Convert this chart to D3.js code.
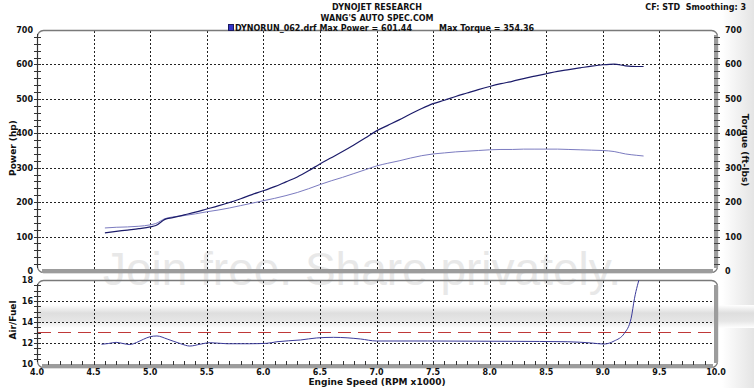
<!DOCTYPE html>
<html><head><meta charset="utf-8">
<script src="https://cdn.jsdelivr.net/npm/d3@7"></script>
<style>
html,body{margin:0;padding:0;background:#fff;}
svg{display:block;}
text{font-family:"DejaVu Sans",Verdana,sans-serif;font-weight:bold;fill:#111;}
</style></head>
<body>
<svg id="c" width="754" height="388"></svg>
<script>
// ---- data ----
const rpm    = [4.6,4.7,4.8,4.9,5.0,5.05,5.13,5.2,5.3,5.4,5.5,5.6,5.7,5.8,5.9,6.0,6.1,6.2,6.3,6.4,6.5,6.6,6.7,6.8,6.9,7.0,7.1,7.2,7.3,7.4,7.5,7.6,7.7,7.8,7.9,8.0,8.1,8.2,8.3,8.4,8.5,8.6,8.7,8.8,8.9,9.0,9.1,9.2,9.3,9.36];
const power  = [111,115,119,123,128,132,150,155,163,171,180,189,199,210,222,233,245,259,273,291,311,329,347,366,386,407,423,439,456,472,486,496,507,517,527,536,544,551,559,566,573,580,585,590,595,599,601,596,594,594];
const torque = [125,127,128,130,134,138,152,157,161,166,172,177,183,190,197,204,211,219,228,239,251,262,272,283,294,305,313,320,328,335,340,343,346,348,350,352,353,353,354,354,354,354,353,352,351,350,347,340,336,334];
const afrRpm = [4.57,4.63,4.70,4.76,4.82,4.88,4.94,5.0,5.06,5.15,5.27,5.35,5.44,5.53,5.68,5.88,6.03,6.12,6.33,6.47,6.62,6.86,7.0,7.45,8.19,8.69,8.9,9.01,9.1,9.19,9.25,9.28,9.33];
const afr    = [11.88,11.95,12.06,11.95,11.85,12.05,12.35,12.6,12.67,12.38,11.93,11.71,11.88,12.03,11.93,11.93,11.97,12.12,12.29,12.48,12.54,12.38,12.19,12.19,12.16,12.12,12.0,11.9,12.19,12.92,14.35,16.26,18.4];
const afrTarget = 13;
const xTicks = [4.0,4.5,5.0,5.5,6.0,6.5,7.0,7.5,8.0,8.5,9.0,9.5,10.0];
const pTicks = [0,100,200,300,400,500,600,700];
const aTicks = [10,12,14,16,18];
const titleLines = ["DYNOJET RESEARCH","WANG'S AUTO SPEC.COM"];
const legendPower = "DYNORUN_062.drf Max Power = 601.44";
const legendTorque = "Max Torque = 354.36";

// ---- scales ----
const x  = d3.scaleLinear().domain([4,10]).range([37,716]);
const yP = d3.scaleLinear().domain([0,700]).range([271,30]);
const yA = d3.scaleLinear().domain([10,18]).range([364,280]);

const svg = d3.select("#c");

// background gradients
const defs = svg.append("defs");
const g1 = defs.append("linearGradient").attr("id","rg").attr("x1",0).attr("x2",1).attr("y1",0).attr("y2",0);
g1.append("stop").attr("offset",0).attr("stop-color","#fff");
g1.append("stop").attr("offset",1).attr("stop-color","#e4e4e4");
svg.append("rect").attr("x",722).attr("y",0).attr("width",32).attr("height",388).attr("fill","url(#rg)");
const g2 = defs.append("linearGradient").attr("id","bg").attr("x1",0).attr("x2",0).attr("y1",0).attr("y2",1);
g2.append("stop").attr("offset",0).attr("stop-color","#fff");
g2.append("stop").attr("offset",0.35).attr("stop-color","#dedede");
g2.append("stop").attr("offset",0.7).attr("stop-color","#e6e6e6");
g2.append("stop").attr("offset",1).attr("stop-color","#fff");
svg.append("rect").attr("x",38).attr("y",305).attr("width",716).attr("height",23).attr("fill","url(#bg)");

// watermark
svg.append("text").attr("x",362).attr("y",285).attr("text-anchor","middle")
  .style("font-family","'Liberation Sans',Arial,sans-serif").style("font-weight","normal")
  .style("font-size","46px").style("fill","#e8e8e8").text("Join free. Share privately.");

// ---- grids ----
const gridV = xTicks.filter(v=>v>4 && v<10);
function grid(yScale, hVals, y0, y1){
  svg.append("g").selectAll("line").data(gridV).join("line")
    .attr("x1",d=>Math.round(x(d))+0.5).attr("x2",d=>Math.round(x(d))+0.5)
    .attr("y1",y0).attr("y2",y1)
    .attr("stroke","#222").attr("stroke-width",1).attr("stroke-dasharray","2,2");
  svg.append("g").selectAll("line").data(hVals).join("line")
    .attr("x1",38).attr("x2",716)
    .attr("y1",d=>Math.round(yScale(d))+0.5).attr("y2",d=>Math.round(yScale(d))+0.5)
    .attr("stroke","#222").attr("stroke-width",1).attr("stroke-dasharray","2,2");
}
grid(yP, pTicks.filter(v=>v>0&&v<700), 31, 270);
grid(yA, aTicks.filter(v=>v>10&&v<18), 281, 363);

// ---- frames ----
function frame(yTop, yBot){
  svg.append("rect").attr("x",37.5).attr("y",yTop+0.5).attr("width",680).attr("height",yBot-yTop)
    .attr("rx",6).attr("fill","none").attr("stroke","#7a7a7a").attr("stroke-width",1.3);
  svg.append("line").attr("x1",42).attr("x2",713).attr("y1",yBot-1).attr("y2",yBot-1)
    .attr("stroke","#9c9c9c").attr("stroke-width",4);
  svg.append("line").attr("x1",716).attr("x2",716).attr("y1",yTop+5).attr("y2",yBot-4)
    .attr("stroke","#9c9c9c").attr("stroke-width",4);
}
frame(30, 272);
frame(280, 367);

// left axis lines
svg.append("line").attr("x1",37.5).attr("x2",37.5).attr("y1",34).attr("y2",268).attr("stroke","#333");
svg.append("line").attr("x1",37.5).attr("x2",37.5).attr("y1",284).attr("y2",362).attr("stroke","#333");

// minor ticks
svg.append("g").selectAll("line").data(d3.range(20,700,20)).join("line")
  .attr("x1",34).attr("x2",41).attr("y1",d=>Math.round(yP(d))+0.5).attr("y2",d=>Math.round(yP(d))+0.5)
  .attr("stroke","#333");
svg.append("g").selectAll("line").data(d3.range(20,700,20)).join("line")
  .attr("x1",714).attr("x2",720).attr("y1",d=>Math.round(yP(d))+0.5).attr("y2",d=>Math.round(yP(d))+0.5)
  .attr("stroke","#444");
svg.append("g").selectAll("line").data(d3.range(10.5,18,0.5)).join("line")
  .attr("x1",34).attr("x2",41).attr("y1",d=>Math.round(yA(d))+0.5).attr("y2",d=>Math.round(yA(d))+0.5)
  .attr("stroke","#333");
svg.append("g").selectAll("line").data(d3.range(41,100,1).map(v=>v/10)).join("line")
  .attr("x1",d=>Math.round(x(d))+0.5).attr("x2",d=>Math.round(x(d))+0.5).attr("y1",361).attr("y2",365)
  .attr("stroke","#333");

// ---- tick labels ----
const fs = "8px";
svg.append("g").selectAll("text").data(pTicks).join("text")
  .attr("x",33).attr("y",d=>yP(d)+3).attr("text-anchor","end").style("font-size",fs).text(d=>d);
svg.append("g").selectAll("text").data(pTicks).join("text")
  .attr("x",725).attr("y",d=>yP(d)+3).attr("text-anchor","start").style("font-size",fs).text(d=>d);
svg.append("g").selectAll("text").data(aTicks).join("text")
  .attr("x",33).attr("y",d=>yA(d)+3).attr("text-anchor","end").style("font-size",fs).text(d=>d);
svg.append("g").selectAll("text").data(xTicks).join("text")
  .attr("x",d=>x(d)).attr("y",375).attr("text-anchor","middle").style("font-size",fs).text(d=>d.toFixed(1));

// ---- axis titles ----
svg.append("text").attr("transform","translate(16,148) rotate(-90)").attr("text-anchor","middle")
  .style("font-size","9px").text("Power (hp)");
svg.append("text").attr("transform","translate(742,150) rotate(90)").attr("text-anchor","middle")
  .style("font-size","9px").text("Torque (ft-lbs)");
svg.append("text").attr("transform","translate(16,320) rotate(-90)").attr("text-anchor","middle")
  .style("font-size","9px").text("Air/Fuel");
svg.append("text").attr("x",377).attr("y",385).attr("text-anchor","middle")
  .style("font-size","9px").text("Engine Speed (RPM x1000)");

// ---- titles ----
svg.append("g").selectAll("text").data(titleLines).join("text")
  .attr("x",377).attr("y",(d,i)=>10+i*11).attr("text-anchor","middle").style("font-size",fs).text(d=>d);
svg.append("text").attr("x",746).attr("y",10).attr("text-anchor","end").style("font-size",fs)
  .attr("xml:space","preserve").text("CF: STD  Smoothing: 3");

// ---- series ----
const lineP = d3.line().x((d,i)=>x(rpm[i])).y(d=>yP(d)).curve(d3.curveMonotoneX);
svg.append("path").attr("d",lineP(torque)).attr("fill","none").attr("stroke","#7b7bc0").attr("stroke-width",1);
svg.append("path").attr("d",lineP(power)).attr("fill","none").attr("stroke","#1c1c6a").attr("stroke-width",1.2);

// AFR
defs.append("clipPath").attr("id","ac").append("rect").attr("x",37).attr("y",280).attr("width",680).attr("height",86);
svg.append("line").attr("x1",38).attr("x2",714).attr("y1",yA(afrTarget)).attr("y2",yA(afrTarget))
  .attr("stroke","#c03838").attr("stroke-width",1).attr("stroke-dasharray","13,7");
const lineA = d3.line().x((d,i)=>x(afrRpm[i])).y(d=>yA(d)).curve(d3.curveMonotoneX);
svg.append("path").attr("d",lineA(afr)).attr("clip-path","url(#ac)").attr("fill","none")
  .attr("stroke","#3b3b9a").attr("stroke-width",1);

// ---- legend ----
svg.append("rect").attr("x",228.5).attr("y",24.5).attr("width",5).attr("height",6)
  .attr("fill","#3434c8").attr("stroke","#1a1a60").attr("stroke-width",1);
svg.append("text").attr("x",235).attr("y",31).style("font-size",fs).text(legendPower);
svg.append("text").attr("x",439).attr("y",31).style("font-size",fs).text(legendTorque);
</script>
</body></html>
